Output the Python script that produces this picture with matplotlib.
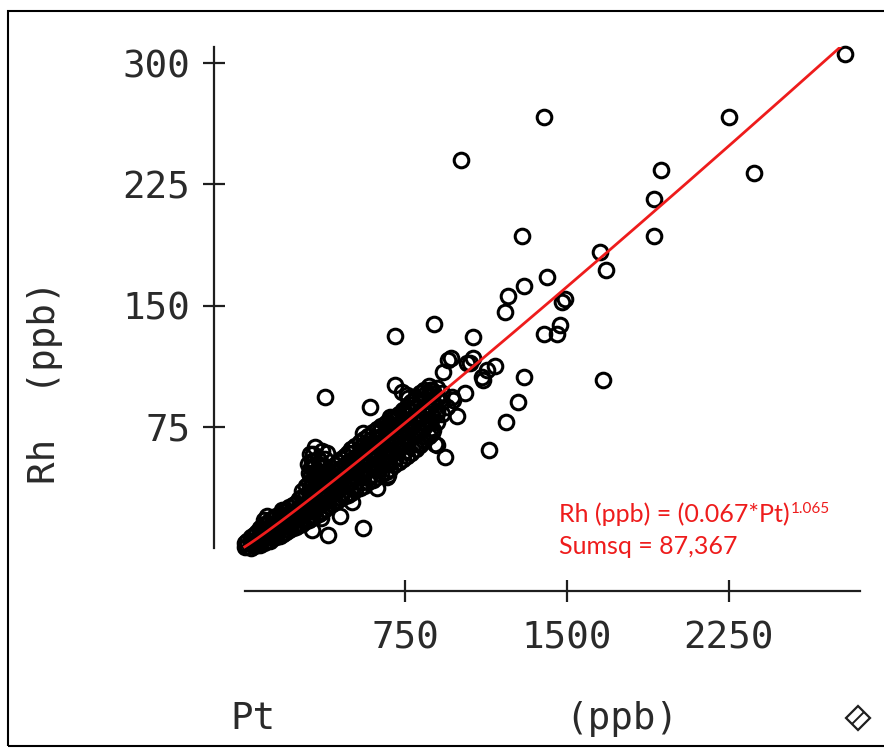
import numpy as np
import matplotlib
matplotlib.use("Agg")
import matplotlib.pyplot as plt
from matplotlib.lines import Line2D
from matplotlib.patches import Rectangle

# fitted model shown on the chart: Rh = a * Pt^b
fit_a = 0.067
fit_b = 1.065

# dense band of samples near the origin (Pt columns, Rh values per column)
core_pt = [10, 20, 35, 50, 65, 80, 95, 110, 125, 140,
           155, 170, 185, 200, 215, 230, 245, 260, 275, 290,
           305, 320, 335, 350, 365, 380, 395, 410, 425, 440,
           455, 470, 485, 500, 520, 540, 560, 580, 600, 620,
           640, 660, 680, 700, 720, 740, 760, 780, 800, 820,
           840, 860, 880, 900, 920]
core_rh = [
    [0.5, 3], [1, 4.5], [0, 3, 6.5], [1, 4.5, 8], [2, 5.5, 9.5],
    [1.5, 5, 9, 12], [3, 6.5, 10.5, 14, 17], [4, 8, 12, 15.5], [4.5, 8.5, 12.5, 17], [6, 10, 14, 18.5],
    [6.5, 11, 15, 19.5], [7.5, 12, 16.5, 21], [8.5, 13, 17.5, 22], [10, 14, 18.5, 23.5], [11, 15.5, 20, 25],
    [12, 16.5, 21, 26.5], [13, 17.5, 22.5, 28], [14, 19, 24, 30], [15, 20, 25.5, 31.5, 35], [16.5, 21.5, 27, 33, 38],
    [17.5, 22.5, 28.5, 34.5, 40], [18.5, 24, 30, 36, 42], [20, 25.5, 31, 37, 43], [21, 27, 33, 39, 44.5], [22, 28, 34, 40, 45.5],
    [24, 30, 36, 42, 47], [26, 31.5, 37.5, 43, 48], [27, 33, 39, 45, 49.5], [28.5, 34.5, 40.5, 46.5, 51], [29.5, 36, 42, 48, 53],
    [31, 37.5, 43.5, 49.5, 55], [32, 38.5, 45, 51, 57], [33, 40, 46.5, 53, 59], [34, 41, 48, 54.5, 61], [35.5, 43, 50, 56.5, 63],
    [37, 44.5, 52, 59, 65.5], [38.5, 46, 54, 61, 67.5], [40.5, 48, 56, 63, 69.5], [42, 50, 58, 65, 71.5], [44, 52, 60, 67, 73.5],
    [45.5, 54, 62, 69.5, 75.5], [47, 55.5, 64, 71.5, 77.5], [49, 57.5, 66, 73.5, 79], [51, 59.5, 68, 75.5, 81], [53, 61.5, 70, 77.5, 83],
    [55, 63.5, 72, 80, 85.5], [57, 66, 74, 82, 87.5], [59, 68, 76.5, 84.5, 90], [61, 70, 79, 87, 93], [63.5, 72.5, 81.5, 89.5, 96],
    [66, 75, 84, 92, 98], [69, 78, 87, 94.5, 100], [73, 81, 89.5, 97], [78, 85, 92, 99], [83, 90, 96],
]

# extra samples filling the wider part of the band (Pt 500-900)
fill_pt = [510, 550, 590, 630, 670, 710, 750, 790, 830, 870]
fill_rh = [
    [38, 45, 52, 59], [41, 48.5, 56, 63], [44.5, 52, 60, 67], [48.5, 57, 65, 72], [52, 61, 69, 76],
    [56, 64.5, 73, 80], [60, 69, 77, 84], [64, 73, 81.5, 89], [69, 78, 86, 94], [74, 83, 91, 98],
]

# short spur of samples above the band around Pt 300-400
arm_pt = [300, 310, 325, 330, 345, 350, 365, 380, 335, 315]
arm_rh = [52, 58, 58, 50, 55, 50, 60, 55, 43, 45]

# scattered samples
spread_pt = [2787, 2250, 2366, 1934, 1903, 1903, 1681, 1653, 1668,
             1394, 1008, 1290, 1409, 1301, 1228, 1213, 1475, 1490, 1468, 1394, 1455,
             884, 1063, 704, 962, 1066, 1036, 1167, 927, 1105, 1302,
             1028, 989, 1275, 1218, 1140, 935,
             951, 1051, 1128, 1113, 974, 866,
             881, 912, 966, 897, 943, 874, 897,
             812, 889, 627, 673, 549, 542, 580, 619, 665,
             378, 588, 704, 735, 765, 761, 681, 755, 634, 557,
             333, 390, 358, 318, 315, 305, 340,
             110, 179,
             449, 395, 557, 318, 503, 361]
spread_rh = [306, 267, 232, 234, 216, 193, 172, 183, 104,
             267, 240, 193, 167.5, 162, 156, 146, 152, 154, 138, 132.5, 132.5,
             138.5, 130.5, 131, 117.5, 117.5, 114.5, 112.5, 109, 105.5, 105.5,
             96, 81.5, 90, 78, 60.5, 56.5,
             116.5, 114.5, 110, 104, 91.5, 97.5,
             95.5, 91.5, 93.5, 83.5, 87.5, 71, 63.5,
             64.5, 64.5, 48, 45, 44, 45, 43, 37, 44,
             93.5, 87.5, 101, 96.5, 92.5, 94.5, 81, 82, 73, 71,
             62.5, 58.5, 54, 54, 50, 46.5, 46,
             20, 23.5,
             19.5, 8, 12, 11, 28.5, 18.5]

x_ticks = [750, 1500, 2250]
y_ticks = [75, 150, 225, 300]

W, H = 884, 749

def fx(px) :
    return px / W

def fy(py) :
    return 1.0 - py / H

mono = "DejaVu Sans Mono"
ink = "#1e1e1e"
red = "#ee1c1c"

fig = plt.figure(figsize = (W / 100, H / 100), dpi = 100)
fig.patch.set_facecolor("white")

# axes box in pixels: x 214..860, y 47..591
ax = fig.add_axes([fx(214), fy(591), (860 - 214) / W, (591 - 47) / H])
ax.set_xlim(-134.3, 2856.5)
ax.set_ylim(-26.75, 310.15)
ax.patch.set_alpha(0)

for s in ["top", "right"] :
    ax.spines[s].set_visible(False)
ax.spines["left"].set_bounds(0, 310)
ax.spines["bottom"].set_bounds(9, 2856)
for s in ["left", "bottom"] :
    ax.spines[s].set_linewidth(1.6)
    ax.spines[s].set_color(ink)

ax.set_xticks(x_ticks)
ax.set_yticks(y_ticks)
ax.set_xticklabels([str(v) for v in x_ticks])
ax.set_yticklabels([str(v) for v in y_ticks])
ax.tick_params(axis = "both", direction = "inout", length = 16, width = 1.6, color = ink)
ax.tick_params(axis = "y", pad = 9)
ax.tick_params(axis = "x", pad = 13)
for lab in ax.get_xticklabels() + ax.get_yticklabels() :
    lab.set_family(mono)
    lab.set_fontsize(27)
    lab.set_color("#2a2a2a")

# points
pts_x = []
pts_y = []
for cols_pt, cols_rh in [(core_pt, core_rh), (fill_pt, fill_rh)] :
    for p, col in zip(cols_pt, cols_rh) :
        for r in col :
            pts_x.append(p)
            pts_y.append(r)
pts_x.extend(arm_pt + spread_pt)
pts_y.extend(arm_rh + spread_rh)
ax.plot(pts_x, pts_y, "o", mfc = "none", mec = "black", ms = 10.5, mew = 2.2,
        clip_on = False, zorder = 2)

# fitted curve
fit_x = np.linspace(8, 2801, 400)
fit_y = fit_a * fit_x ** fit_b
ax.plot(fit_x, fit_y, color = red, lw = 2.0, zorder = 3)

# axis titles
fig.text(fx(45), fy(382), "Rh  (ppb)", rotation = 90, ha = "center", va = "center",
         family = mono, fontsize = 27, color = "#2a2a2a")
fig.text(fx(230), fy(719), "Pt", ha = "left", va = "center",
         family = mono, fontsize = 27, color = "#2a2a2a")
fig.text(fx(622), fy(719), "(ppb)", ha = "center", va = "center",
         family = mono, fontsize = 27, color = "#2a2a2a")

# equation text
t1 = fig.text(fx(559), fy(522), "Rh (ppb) = (0.067*Pt)", ha = "left", va = "baseline",
              family = "Lato", fontsize = 18, color = red)
fig.text(fx(559), fy(554), "Sumsq = 87,367", ha = "left", va = "baseline",
         family = "Lato", fontsize = 18, color = red)
ax.annotate("1.065", xy = (1, 1), xycoords = t1, xytext = (1, 0), textcoords = "offset points",
            ha = "left", va = "top", family = "Lato", fontsize = 11, color = red)

# little diamond glyph bottom right
fig.add_artist(Line2D([fx(858)], [fy(718)], marker = "D", ms = 12, mfc = "none",
                      mec = ink, mew = 1.6, transform = fig.transFigure))
fig.add_artist(Line2D([fx(853), fx(863)], [fy(723), fy(713)], color = ink, lw = 1.4,
                      transform = fig.transFigure))

# outer frame
fig.add_artist(Rectangle((fx(8), fy(746)), 1.2, fy(11) - fy(746), transform = fig.transFigure,
                         fill = False, lw = 1.5, ec = "black"))

fig.savefig("out.png", dpi = 100)
